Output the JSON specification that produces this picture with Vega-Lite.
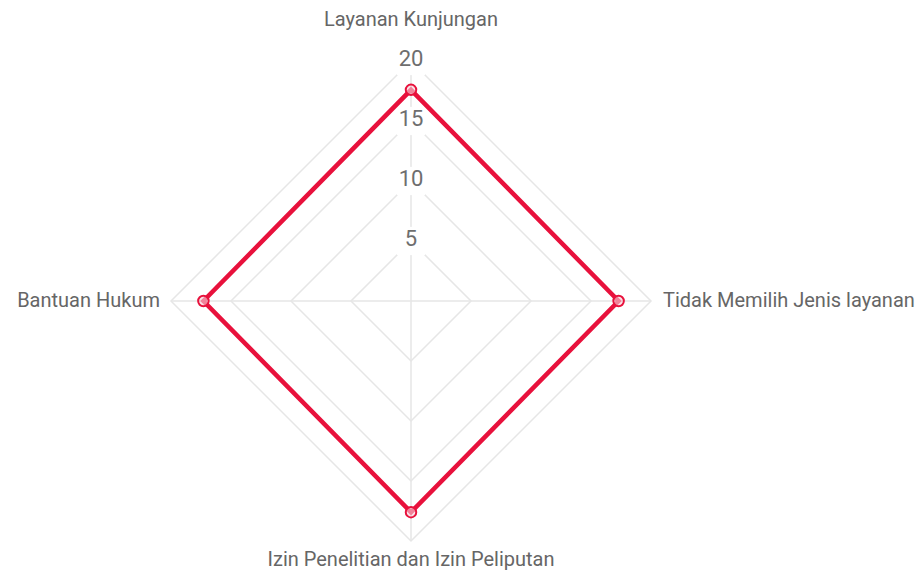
{
  "$schema": "https://vega.github.io/schema/vega-lite/v6.json",
  "width": 917,
  "height": 576,
  "autosize": {"type": "none"},
  "padding": 0,
  "background": "white",
  "config": {"view": {"stroke": null}, "font": "Roboto"},
  "datasets": {
    "rings": [
      {"ring": 5, "idx": 0, "x": 0, "y": 5}, {"ring": 5, "idx": 1, "x": 5, "y": 0}, {"ring": 5, "idx": 2, "x": 0, "y": -5}, {"ring": 5, "idx": 3, "x": -5, "y": 0},
      {"ring": 10, "idx": 0, "x": 0, "y": 10}, {"ring": 10, "idx": 1, "x": 10, "y": 0}, {"ring": 10, "idx": 2, "x": 0, "y": -10}, {"ring": 10, "idx": 3, "x": -10, "y": 0},
      {"ring": 15, "idx": 0, "x": 0, "y": 15}, {"ring": 15, "idx": 1, "x": 15, "y": 0}, {"ring": 15, "idx": 2, "x": 0, "y": -15}, {"ring": 15, "idx": 3, "x": -15, "y": 0},
      {"ring": 20, "idx": 0, "x": 0, "y": 20}, {"ring": 20, "idx": 1, "x": 20, "y": 0}, {"ring": 20, "idx": 2, "x": 0, "y": -20}, {"ring": 20, "idx": 3, "x": -20, "y": 0}
    ],
    "spokes": [
      {"x": -20, "x2": 20, "y": 0, "y2": 0},
      {"x": 0, "x2": 0, "y": -20, "y2": 20}
    ],
    "axes": [
      {"category": "Layanan Kunjungan", "ex": 0, "ey": 20},
      {"category": "Tidak Memilih Jenis layanan", "ex": 20, "ey": 0},
      {"category": "Izin Penelitian dan Izin Peliputan", "ex": 0, "ey": -20},
      {"category": "Bantuan Hukum", "ex": -20, "ey": 0}
    ],
    "ticks": [
      {"label": "5", "x": 0, "v": 5}, {"label": "10", "x": 0, "v": 10}, {"label": "15", "x": 0, "v": 15}, {"label": "20", "x": 0, "v": 20}
    ],
    "series": [
      {"category": "Layanan Kunjungan", "idx": 0, "value": 17.6, "x": 0, "y": 17.6},
      {"category": "Tidak Memilih Jenis layanan", "idx": 1, "value": 17.3, "x": 17.3, "y": 0},
      {"category": "Izin Penelitian dan Izin Peliputan", "idx": 2, "value": 17.6, "x": 0, "y": -17.6},
      {"category": "Bantuan Hukum", "idx": 3, "value": 17.3, "x": -17.3, "y": 0}
    ]
  },
  "layer": [
    {
      "data": {"name": "rings"},
      "mark": {"type": "line", "interpolate": "linear-closed", "stroke": "#e6e6e6", "strokeWidth": 1.5},
      "encoding": {
        "x": {"field": "x", "type": "quantitative", "scale": {"domain": [-34.25, 42.1667], "nice": false, "zero": false}, "axis": null},
        "y": {"field": "y", "type": "quantitative", "scale": {"domain": [-22.9167, 25.0833], "nice": false, "zero": false}, "axis": null},
        "detail": {"field": "ring", "type": "nominal"},
        "order": {"field": "idx", "type": "quantitative"}
      }
    },
    {
      "data": {"name": "spokes"},
      "mark": {"type": "rule", "stroke": "#e6e6e6", "strokeWidth": 1.5},
      "encoding": {
        "x": {"field": "x", "type": "quantitative"},
        "y": {"field": "y", "type": "quantitative"},
        "x2": {"field": "x2"},
        "y2": {"field": "y2"}
      }
    },
    {
      "data": {"name": "ticks"},
      "mark": {"type": "point", "shape": "square", "size": 800, "filled": true, "fill": "white", "opacity": 1, "strokeWidth": 0},
      "encoding": {
        "x": {"field": "x", "type": "quantitative"},
        "y": {"field": "v", "type": "quantitative"}
      }
    },
    {
      "data": {"name": "ticks"},
      "mark": {"type": "text", "fontSize": 22, "fill": "#6e6e6e", "baseline": "middle", "align": "center", "dy": -2},
      "encoding": {
        "x": {"field": "x", "type": "quantitative"},
        "y": {"field": "v", "type": "quantitative"},
        "text": {"field": "label"}
      }
    },
    {
      "data": {"name": "series"},
      "mark": {"type": "line", "interpolate": "linear-closed", "stroke": "#e8113c", "strokeWidth": 4.5},
      "encoding": {
        "x": {"field": "x", "type": "quantitative"},
        "y": {"field": "y", "type": "quantitative"},
        "order": {"field": "idx", "type": "quantitative"}
      }
    },
    {
      "data": {"name": "series"},
      "mark": {"type": "point", "shape": "circle", "size": 110, "filled": true, "fill": "#f7d0d8", "fillOpacity": 0.6, "stroke": "#e8113c", "strokeWidth": 2, "opacity": 1},
      "encoding": {
        "x": {"field": "x", "type": "quantitative"},
        "y": {"field": "y", "type": "quantitative"}
      }
    },
    {
      "data": {"name": "axes"},
      "transform": [{"filter": "datum.ey > 0"}],
      "mark": {"type": "text", "fontSize": 20, "fill": "#666666", "align": "center", "baseline": "middle", "dy": -41},
      "encoding": {"x": {"field": "ex", "type": "quantitative"}, "y": {"field": "ey", "type": "quantitative"}, "text": {"field": "category"}}
    },
    {
      "data": {"name": "axes"},
      "transform": [{"filter": "datum.ey < 0"}],
      "mark": {"type": "text", "fontSize": 20, "fill": "#666666", "align": "center", "baseline": "middle", "dy": 19},
      "encoding": {"x": {"field": "ex", "type": "quantitative"}, "y": {"field": "ey", "type": "quantitative"}, "text": {"field": "category"}}
    },
    {
      "data": {"name": "axes"},
      "transform": [{"filter": "datum.ex > 0"}],
      "mark": {"type": "text", "fontSize": 20, "fill": "#666666", "align": "left", "baseline": "middle", "dx": 12},
      "encoding": {"x": {"field": "ex", "type": "quantitative"}, "y": {"field": "ey", "type": "quantitative"}, "text": {"field": "category"}}
    },
    {
      "data": {"name": "axes"},
      "transform": [{"filter": "datum.ex < 0"}],
      "mark": {"type": "text", "fontSize": 20, "fill": "#666666", "align": "right", "baseline": "middle", "dx": -11},
      "encoding": {"x": {"field": "ex", "type": "quantitative"}, "y": {"field": "ey", "type": "quantitative"}, "text": {"field": "category"}}
    }
  ]
}
